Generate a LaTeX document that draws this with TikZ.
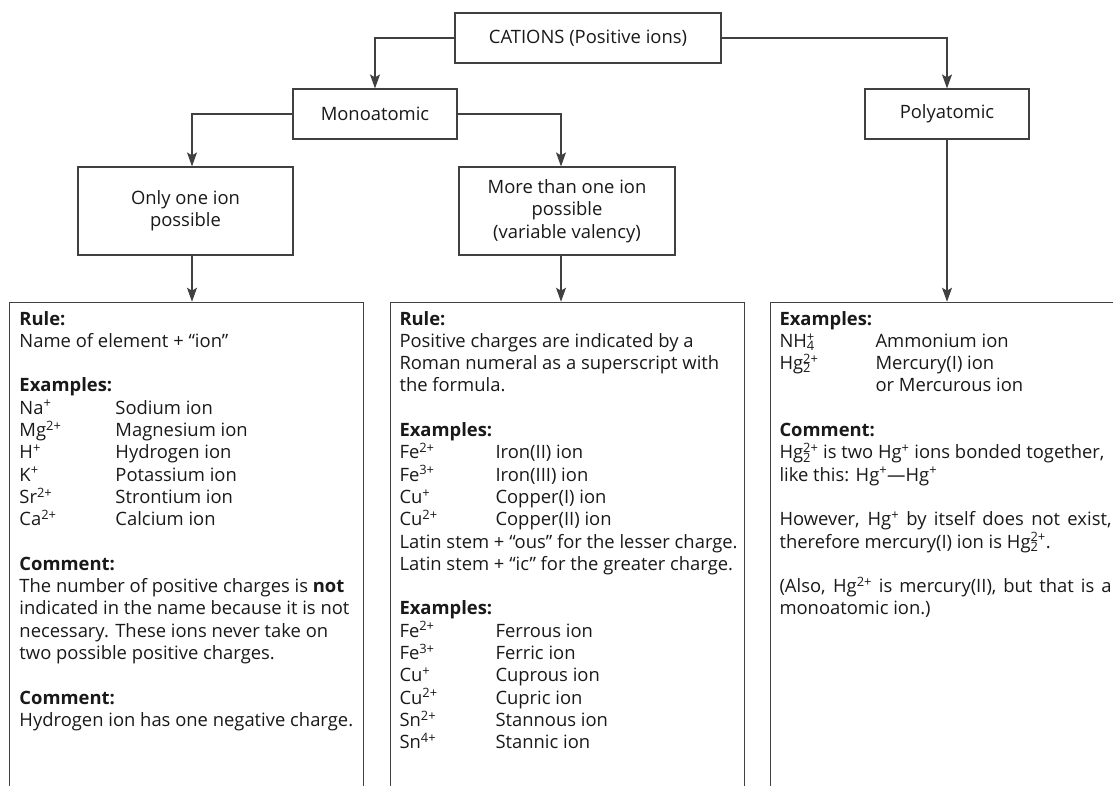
\documentclass[tikz,border=0pt]{standalone}
\usepackage{fontspec}
\setmainfont{Open Sans}
\usetikzlibrary{arrows.meta}
\newcommand{\ionrow}[2]{\makebox[96pt][l]{#1}#2}
\newcommand{\subsup}[2]{\rlap{\textsubscript{#1}}\textsuperscript{#2}}
\begin{document}
\begin{tikzpicture}[x=1pt,y=-1pt,
  box/.style={draw=black!75, line width=1.2pt, fill=white, text=black!90, align=center, inner sep=0pt, font=\fontsize{18.4}{22.3}\selectfont},
  conn/.style={draw=black!75, line width=1.2pt, -{Stealth[length=14pt,width=10pt,inset=3pt]}},
  big/.style={draw=black!75, line width=1.2pt, anchor=north west, inner sep=0pt, minimum height=600pt},
  txt/.style={anchor=base west, inner sep=0pt, text=black!90, font=\fontsize{18.4}{22.3}\selectfont}]
\useasboundingbox (0,0) rectangle (1113,785);
\clip (0,0) rectangle (1113,785);
% top level
\node[box, minimum width=266pt, minimum height=50pt] (cat) at (588,38) {CATIONS (Positive ions)};
\node[box, minimum width=164pt, minimum height=50pt] (mono) at (375,114) {Monoatomic};
\node[box, minimum width=164pt, minimum height=50pt] (poly) at (947,114) {Polyatomic};
\node[box, minimum width=215pt, minimum height=88pt] (only) at (185.5,211) {Only one ion\\possible};
\node[box, minimum width=216pt, minimum height=88pt] (more) at (567,211) {More than one ion\\possible\\(variable valency)};
% connector columns
\coordinate (ja) at (192,0);
\coordinate (jb) at (561,0);
% big boxes
\node[big, minimum width=354pt] (ruleA) at (9,301.7) {};
\node[big, minimum width=354pt] (ruleB) at (390,301.7) {};
\node[big, minimum width=500pt] (ruleC) at (770,301.7) {};
% connectors
\draw[conn] (cat.west) -| (mono.north);
\draw[conn] (cat.east) -| (poly.north);
\draw[conn] (mono.west) -| (ja |- only.north);
\draw[conn] (mono.east) -| (jb |- more.north);
\draw[conn] (ja |- only.south) -- (ja |- ruleA.north);
\draw[conn] (jb |- more.south) -- (jb |- ruleB.north);
\draw[conn] (poly.south) -- (poly.south |- ruleC.north);
% texts
\node[txt] (tA) at (19.3,325) {\parbox[t]{342pt}{\raggedright
\textbf{Rule:}\\
Name of element + “ion”\\[22.3pt]
\textbf{Examples:}\\
\ionrow{Na\textsuperscript{+}}{Sodium ion}\\
\ionrow{Mg\textsuperscript{2+}}{Magnesium ion}\\
\ionrow{H\textsuperscript{+}}{Hydrogen ion}\\
\ionrow{K\textsuperscript{+}}{Potassium ion}\\
\ionrow{Sr\textsuperscript{2+}}{Strontium ion}\\
\ionrow{Ca\textsuperscript{2+}}{Calcium ion}\\[22.3pt]
\textbf{Comment:}\\
The number of positive charges is \textbf{not}\\
indicated in the name because it is not\\
necessary. These ions never take on\\
two possible positive charges.\\[22.3pt]
\textbf{Comment:}\\
Hydrogen ion has one negative charge.}};
\node[txt] (tB) at (399.3,325) {\parbox[t]{342pt}{\raggedright
\textbf{Rule:}\\
Positive charges are indicated by a\\
Roman numeral as a superscript with\\
the formula.\\[22.3pt]
\textbf{Examples:}\\
\ionrow{Fe\textsuperscript{2+}}{Iron(II) ion}\\
\ionrow{Fe\textsuperscript{3+}}{Iron(III) ion}\\
\ionrow{Cu\textsuperscript{+}}{Copper(I) ion}\\
\ionrow{Cu\textsuperscript{2+}}{Copper(II) ion}\\
Latin stem + “ous” for the lesser charge.\\
Latin stem + “ic” for the greater charge.\\[22.3pt]
\textbf{Examples:}\\
\ionrow{Fe\textsuperscript{2+}}{Ferrous ion}\\
\ionrow{Fe\textsuperscript{3+}}{Ferric ion}\\
\ionrow{Cu\textsuperscript{+}}{Cuprous ion}\\
\ionrow{Cu\textsuperscript{2+}}{Cupric ion}\\
\ionrow{Sn\textsuperscript{2+}}{Stannous ion}\\
\ionrow{Sn\textsuperscript{4+}}{Stannic ion}}};
\node[txt] (tC) at (779.3,325) {\parbox[t]{332pt}{\raggedright
\textbf{Examples:}\\
\ionrow{NH\subsup{4}{+}}{Ammonium ion}\\
\ionrow{Hg\subsup{2}{2+}}{Mercury(I) ion}\\
\ionrow{}{or Mercurous ion}\\[22.3pt]
\textbf{Comment:}\\
Hg\subsup{2}{2+} is two Hg\textsuperscript{+} ions bonded together,\\
like this: Hg\textsuperscript{+}—Hg\textsuperscript{+}\\[22.3pt]
\makebox[332pt][s]{However, Hg\textsuperscript{+} by itself does not exist,}\\
therefore mercury(I) ion is Hg\subsup{2}{2+}.\\[22.3pt]
\makebox[332pt][s]{(Also, Hg\textsuperscript{2+} is mercury(II), but that is a}\\
monoatomic ion.)}};
\end{tikzpicture}
\end{document}
